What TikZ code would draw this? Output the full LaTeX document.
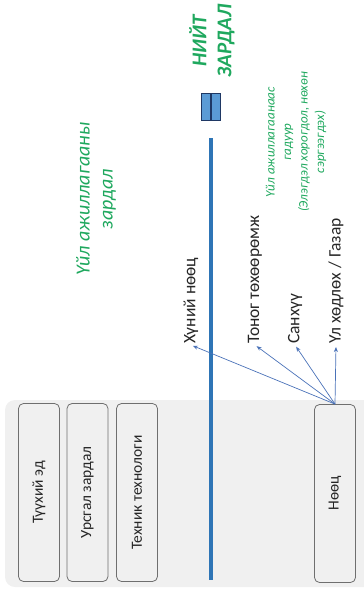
\documentclass[tikz,border=0pt]{standalone}
\usepackage{fontspec}
\setmainfont{Carlito}
\usetikzlibrary{arrows.meta,positioning}
\definecolor{Grn}{HTML}{1FA85E}
\definecolor{BlueL}{HTML}{2E75B6}
\definecolor{BlueA}{HTML}{4A72B8}
\definecolor{BlueF}{HTML}{5B9BD5}
\definecolor{Navy}{HTML}{1F3864}
\definecolor{GrayE}{HTML}{6F6F6F}
\definecolor{GrayF}{HTML}{F0F0F0}
\definecolor{Ink}{HTML}{262626}

\begin{document}
\begin{tikzpicture}[x=1pt,y=-1pt,
    box/.style={draw=GrayE,fill=GrayF,rounded corners=5pt,rotate=90,
      minimum width=178pt,minimum height=41pt,line width=0.8pt,text=Ink,
      font=\fontsize{15.5}{18}\selectfont},
    lbl/.style={rotate=90,anchor=west,inner sep=1pt,text=Ink,
      font=\fontsize{17.5}{20}\selectfont},
    grn/.style={rotate=90,align=center,text=Grn,inner sep=0pt},
    eqbar/.style={draw=Navy,fill=BlueF,minimum width=9pt,minimum height=27pt,
      inner sep=0pt,line width=0.6pt},
    >={Stealth[length=5pt,width=4pt]}]
  \useasboundingbox (0,0) rectangle (364,590);
  % resource panel
  \fill[GrayF,rounded corners=10pt] (5,400) rectangle (380,587);
  \node[box] (raw) at (39,492.5) {Түүхий эд};
  \node[box] (flow) at (87.5,492.5) {Урсгал зардал};
  \node[box] (tech) at (137,492.5) {Техник технологи};
  \node[box] (res) at (335,493.5) {Нөөц};
  % total cost line
  \coordinate (top) at (211,138);
  \coordinate (bot) at (211,580);
  \draw[BlueL,line width=3.5pt] (top) -- (bot);
  \node[eqbar] (eqa) at (205.5,106.5) {};
  \node[eqbar] (eqb) at (216,106.5) {};
  \node[grn,font=\fontsize{21}{25}\selectfont\bfseries\itshape] (total) at (212,41) {НИЙТ\\ЗАРДАЛ};
  \node[grn,font=\fontsize{20}{23}\selectfont\itshape] (opex) at (96,199) {Үйл ажиллагааны\\зардал};
  \node[grn,font=\fontsize{13}{16.5}\selectfont\itshape] (nonop) at (296,142)
    {Үйл ажиллагаанаас\\гадуур\\(Элэгдэл хорогдол, нөхөн\\сэргээгдэх)};
  % resources
  \node[lbl] (hr) at (191,345) {Хүний нөөц};
  \node[lbl] (equip) at (255,345) {Тоног төхөөрөмж};
  \node[lbl] (fin) at (295,345) {Санхүү};
  \node[lbl] (land) at (336,345) {Үл хөдлөх / Газар};
  \draw[->,BlueA,line width=0.7pt,shorten >=2pt] (res.east) -- (hr.west);
  \draw[->,BlueA,line width=0.7pt,shorten >=2pt] (res.east) -- (equip.west);
  \draw[->,BlueA,line width=0.7pt,shorten >=2pt] (res.east) -- (fin.west);
  \draw[->,BlueA,line width=0.7pt,shorten >=2pt] (res.east) -- (land.west);
\end{tikzpicture}
\end{document}
